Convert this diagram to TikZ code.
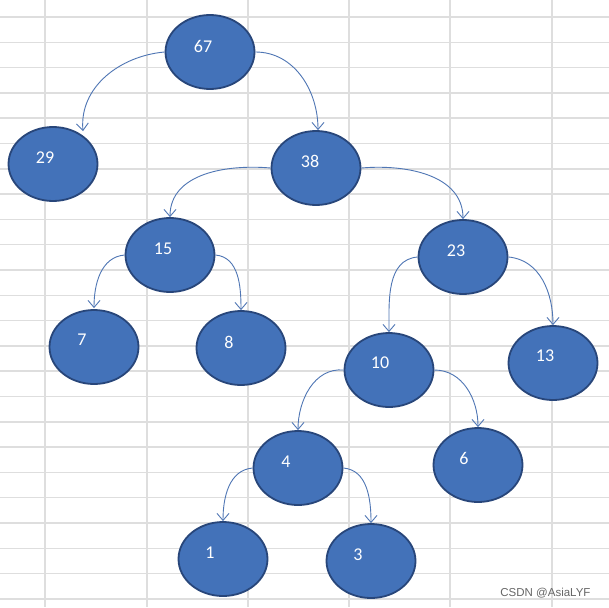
\documentclass[tikz,border=0pt]{standalone}
\usepackage{fontspec}
\setmainfont{Carlito}
\newfontfamily\wmfont{Liberation Sans}
\usetikzlibrary{arrows.meta,shapes.geometric,calc}
\definecolor{nodefill}{RGB}{67,114,185}
\definecolor{nodeedge}{RGB}{40,70,122}
\definecolor{edgecol}{RGB}{79,118,180}
\definecolor{gridcol}{RGB}{222,222,222}
\tikzset{
  ell/.style={ellipse, draw=nodeedge, line width=1.8pt, fill=nodefill, minimum width=89pt, minimum height=74pt, inner sep=0pt},
  num/.style={text=white, font=\fontsize{18}{20}\selectfont, inner sep=0pt},
  link/.style={draw=edgecol, line width=0.9pt, -{Straight Barb[length=7pt,width=12pt,line width=0.9pt]}},
}
\begin{document}
\begin{tikzpicture}[x=1pt,y=-1pt]
\useasboundingbox (0,0) rectangle (609,607);
\fill[white] (0,0) rectangle (609,607);
\foreach \k in {0,...,23} { \draw[gridcol, line width=1.5pt] (0,{17+25.3*\k}) -- (609,{17+25.3*\k}); }
\foreach \x in {45,147,248,349,450,552} { \draw[gridcol, line width=1.5pt] (\x,0) -- (\x,607); }

\node[ell] (n67) at (210,52) {};
\node[ell] (n29) at (53,164) {};
\node[ell] (n38) at (316,168) {};
\node[ell] (n15) at (170,255) {};
\node[ell] (n23) at (463,257) {};
\node[ell] (n7) at (94,347) {};
\node[ell] (n8) at (241,348) {};
\node[ell] (n10) at (389,370) {};
\node[ell] (n13) at (553,363) {};
\node[ell] (n4) at (298,468) {};
\node[ell] (n6) at (478,465) {};
\node[ell] (n1) at (223,559) {};
\node[ell] (n3) at (371,561) {};

\node[num] (t67) at (203,46) {67};
\node[num] (t29) at (45,158) {29};
\node[num] (t38) at (310,161) {38};
\node[num] (t15) at (163,249) {15};
\node[num] (t23) at (456,251) {23};
\node[num] (t7) at (82,340) {7};
\node[num] (t8) at (229,342) {8};
\node[num] (t10) at (380,363) {10};
\node[num] (t13) at (545,356) {13};
\node[num] (t4) at (286,462) {4};
\node[num] (t6) at (464,458) {6};
\node[num] (t1) at (210,553) {1};
\node[num] (t3) at (358,555) {3};

\draw[link] (n67.west) to[out=185,in=95] ($(n29.north)+(30,5)$);
\draw[link] (n67.east) to[out=0,in=90] ($(n38.north)+(2,0)$);
\draw[link] (n38.west) to[out=175,in=90] (n15.north);
\draw[link] (n38.east) to[out=5,in=90] (n23.north);
\draw[link] (n15.west) to[out=185,in=90] ($(n7.north)+(0,-1)$);
\draw[link] (n15.east) to[out=-5,in=90] (n8.north);
\draw[link] (n23.west) to[out=185,in=90] (n10.north);
\draw[link] (n23.east) to[out=-5,in=90] (n13.north);
\draw[link] (n10.west) to[out=175,in=90] (n4.north);
\draw[link] (n10.east) to[out=0,in=90] (n6.north);
\draw[link] (n4.west) to[out=185,in=90] (n1.north);
\draw[link] (n4.east) to[out=-5,in=90] (n3.north);

\node[text=gray!80!black, font=\wmfont\fontsize{11.5}{13}\selectfont, anchor=base east] (wm) at (594,596) {CSDN @AsiaLYF};
\end{tikzpicture}
\end{document}
